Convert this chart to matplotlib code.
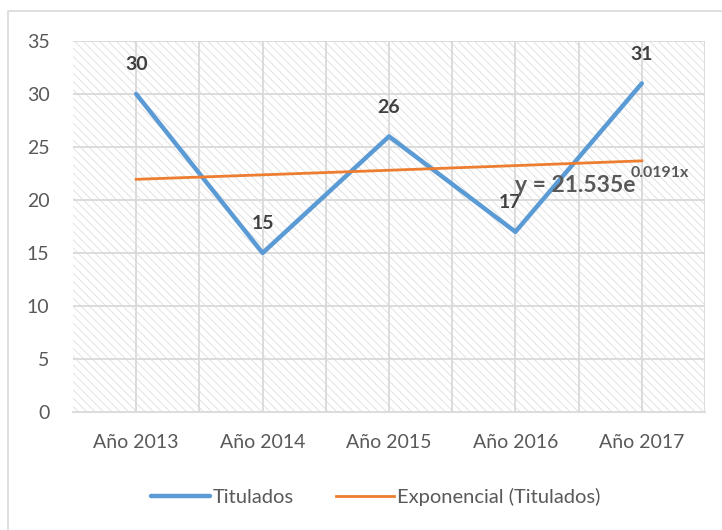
import matplotlib.pyplot as plt
import matplotlib.patches as mpatches
import numpy as np

categorias = ["Año 2013", "Año 2014", "Año 2015", "Año 2016", "Año 2017"]
titulados = [30, 15, 26, 17, 31]
coef_a = 21.535
coef_b = 0.0191
y_ticks = [0, 5, 10, 15, 20, 25, 30, 35]

plt.rcParams['font.family'] = ['Lato', 'DejaVu Sans']
plt.rcParams['hatch.linewidth'] = 0.6

gris_texto = '#595959'
gris_linea = '#d9d9d9'


def main():
    fig = plt.figure(figsize=(7.22, 5.30), dpi=100)
    fig.patches.append(mpatches.Rectangle((8 / 722, -0.05), 1.0, 1.05 - 11 / 530,
                                          transform=fig.transFigure, fill=False,
                                          edgecolor=gris_linea, lw=1.2))
    ax = fig.add_axes([73 / 722, 1 - 412 / 530, 632 / 722, 371 / 530])

    x = np.arange(len(categorias))
    tendencia = coef_a * np.exp(coef_b * (x + 1))

    ax.add_patch(mpatches.Rectangle((0, 0), 1, 1, transform=ax.transAxes,
                                    facecolor='none', edgecolor='#dedede',
                                    hatch='\\\\\\\\', lw=0, zorder=0))

    for gx in np.arange(0, len(categorias) + 0.01, 0.5):
        ax.axvline(gx, color=gris_linea, lw=1.3, zorder=1)
    for gy in y_ticks[1:]:
        ax.axhline(gy, color=gris_linea, lw=1.3, zorder=1)

    ax.plot(x, titulados, color='#5b9bd5', lw=3.2, solid_capstyle='round',
            label='Titulados', zorder=3)
    ax.plot(x, tendencia, color='#ed7d31', lw=2.0, label='Exponencial (Titulados)', zorder=4)

    for xi, v in zip(x, titulados):
        dx = -4 if v == 17 else 0
        ax.annotate(str(v), (xi, v), xytext=(dx, 15), textcoords='offset points',
                    ha='center', va='bottom', fontsize=14, fontweight='bold',
                    color='#404040', zorder=5)

    ax.text(3.0, 21.4, r'y = 21.535e', fontsize=16.5,
            fontweight='bold', color=gris_texto, ha='left', va='center', zorder=5)
    ax.annotate('0.0191x', (3.0, 21.4), xytext=(83, 4), textcoords='offset points',
                fontsize=11.5, fontweight='bold', color=gris_texto, ha='left',
                va='bottom', zorder=5)

    ax.set_xlim(-0.5, len(categorias) - 0.5)
    ax.set_ylim(0, 35)
    ax.set_xticks(x)
    ax.set_xticklabels(categorias)
    ax.set_yticks(y_ticks)
    ax.tick_params(length=0, labelsize=14, colors=gris_texto)
    ax.tick_params(axis='y', pad=17)
    ax.tick_params(axis='x', pad=16)
    for s in ['top', 'right', 'left']:
        ax.spines[s].set_visible(False)
    ax.spines['bottom'].set_color(gris_linea)
    ax.spines['bottom'].set_linewidth(1.3)

    leg = fig.legend(loc='center', bbox_to_anchor=(376 / 722, 1 - 497 / 530), ncol=2,
                     frameon=False, fontsize=14.5, handlelength=2.9, columnspacing=2.1,
                     handletextpad=0.15)
    for t in leg.get_texts():
        t.set_color(gris_texto)

    fig.savefig('out.png', dpi=100)


if __name__ == "__main__":
    main()
